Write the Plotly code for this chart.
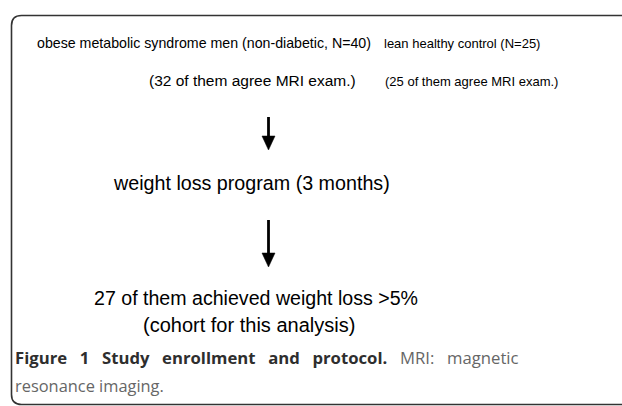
import plotly.graph_objects as go

# ---- content (text of the flowchart) ----
left_group = ["obese metabolic syndrome men (non-diabetic, N=40)",
              "(32 of them agree MRI exam.)"]
right_group = ["lean healthy control (N=25)",
               "(25 of them agree MRI exam.)"]
step_labels = ["weight loss program (3 months)"]
result_labels = ["27 of them achieved weight loss >5%",
                 "(cohort for this analysis)"]
caption_bold = ["Figure", "1", "Study", "enrollment", "and", "protocol."]
caption_rest = ["MRI:", "magnetic"]
caption_line2 = "resonance imaging."

W, H = 622, 406
FLOW_FONT = "Liberation Sans, Arial, sans-serif"
CAP_FONT = "Open Sans, sans-serif"
GAP = " \u2002"  # widened (justified) word gap

fig = go.Figure()

ann = []
def txt(s, x, y, size, anchor="left", color="#000", font=FLOW_FONT):
    ann.append(dict(text=s, x=x, y=y, xref="x", yref="y", showarrow=False,
                    xanchor=anchor, yanchor="middle",
                    font=dict(family=font, size=size, color=color)))

txt(left_group[0], 35, 43, 14.2)
txt(left_group[1], 147, 80, 15.5)
txt(right_group[0], 382, 43, 13)
txt(right_group[1], 383, 81, 13)
txt(step_labels[0], 111, 183, 19.7)
txt(result_labels[0], 92, 298, 19.6)
txt(result_labels[1], 141, 325, 20)

line1 = "<b>" + GAP.join(caption_bold) + "</b>" + GAP + \
        "<span style='color:#666666'>" + GAP.join(caption_rest) + "</span>"
txt(line1, 13, 357, 16.7, color="#2e2e2e", font=CAP_FONT)
txt(caption_line2, 13, 385, 16.4, color="#666666", font=CAP_FONT)

shapes = []
# rounded frame
r = 10
L, T, R, B = 11.5, 15.5, 650, 404.5
shapes.append(dict(type="path", xref="x", yref="y",
                   path=f"M {R} {T} L {L+r} {T} Q {L} {T} {L} {T+r} L {L} {B-r} Q {L} {B} {L+r} {B} L {R} {B}",
                   line=dict(color="#333", width=1.6)))

def arrow(x, y0, y1):
    shapes.append(dict(type="line", xref="x", yref="y", x0=x, x1=x, y0=y0, y1=y1 - 10,
                       line=dict(color="#000", width=2.8)))
    shapes.append(dict(type="path", xref="x", yref="y",
                       path=f"M {x-6.5} {y1-14} L {x+6.5} {y1-14} L {x} {y1} Z",
                       fillcolor="#000", line=dict(color="#000", width=0.5)))

arrow(268.5, 117, 150)
arrow(268.5, 220, 267)

fig.update_layout(
    width=W, height=H, margin=dict(l=0, r=0, t=0, b=0),
    paper_bgcolor="white", plot_bgcolor="white",
    xaxis=dict(range=[0, W], visible=False, fixedrange=True),
    yaxis=dict(range=[H, 0], visible=False, fixedrange=True),
    annotations=ann, shapes=shapes, showlegend=False,
)

fig.write_html("out.html", config={"displayModeBar": False},
               post_script="document.body.style.margin='0px';document.body.style.overflow='hidden';")
